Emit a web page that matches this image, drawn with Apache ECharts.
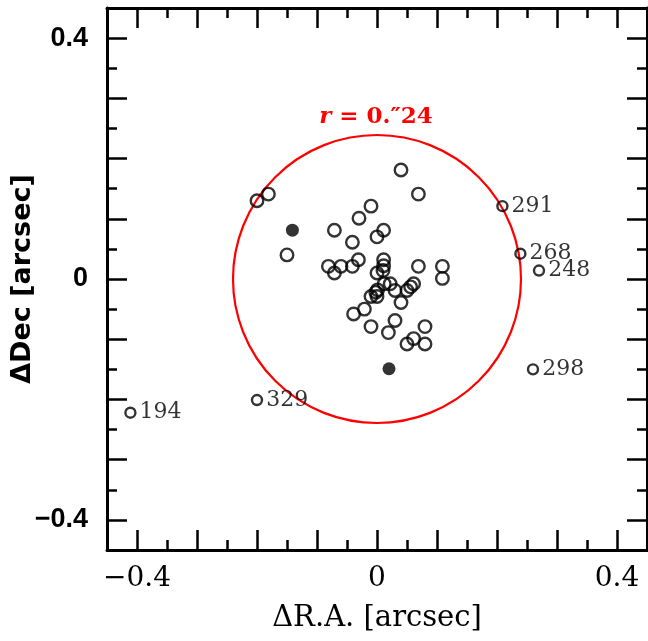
<!DOCTYPE html>
<html>
<head>
<meta charset="utf-8">
<script src="https://cdn.jsdelivr.net/npm/echarts@6/dist/echarts.min.js"></script>
<style>
  html, body { margin: 0; padding: 0; background: #fff; }
  #chart { width: 648px; height: 641px; }
</style>
</head>
<body>
<div id="chart"></div>
<script>
// unlabelled sources (open circles)
const openRA = [-0.200, -0.181, -0.150, -0.071, -0.081, -0.071, 0.040, 0.069, -0.010, -0.030,
  0.011, 0.000, -0.041, -0.031, -0.041, -0.060, 0.011, 0.011, 0.010, 0.000,
  0.069, 0.109, 0.109, 0.001, 0.012, 0.022, 0.030, 0.050, 0.061, 0.056,
  -0.010, -0.002, 0.000, 0.040, -0.021, -0.039, 0.030, -0.010, 0.019, 0.080,
  0.061, 0.050, 0.080];
const openDec = [0.130, 0.141, 0.040, 0.081, 0.021, 0.010, 0.181, 0.141, 0.121, 0.101,
  0.081, 0.070, 0.061, 0.032, 0.021, 0.021, 0.032, 0.022, 0.014, 0.010,
  0.021, 0.021, 0.001, -0.018, -0.008, -0.008, -0.019, -0.019, -0.008, -0.013,
  -0.029, -0.022, -0.029, -0.039, -0.050, -0.058, -0.069, -0.079, -0.089, -0.079,
  -0.099, -0.108, -0.108];

// filled circles
const filledRA = [-0.141, 0.020];
const filledDec = [0.081, -0.149];

// labelled sources
const labelIds = ["194", "329", "298", "291", "268", "248"];
const labelRA = [-0.411, -0.200, 0.260, 0.209, 0.239, 0.270];
const labelDec = [-0.222, -0.201, -0.150, 0.121, 0.042, 0.014];

const circleR = 0.24;
const majorTicks = [-0.4, -0.3, -0.2, -0.1, 0, 0.1, 0.2, 0.3, 0.4];
const minorTicks = [-0.35, -0.25, -0.15, -0.05, 0.05, 0.15, 0.25, 0.35];
const tickLabels = [-0.4, 0, 0.4];

const fmt = (v) => (v === 0 ? "0" : (v < 0 ? "\u2212" : "") + Math.abs(v).toFixed(1));

function makeAxis(position, ticks, len, opts) {
  return Object.assign({
    type: "value",
    position: position,
    min: -0.45,
    max: 0.45,
    splitLine: { show: false },
    axisLine: { show: false, onZero: false },
    axisTick: {
      show: true,
      inside: true,
      length: len,
      customValues: ticks,
      lineStyle: { color: "#000", width: 2.5 },
    },
    axisLabel: { show: false },
  }, opts || {});
}

const frameLine = { show: true, onZero: false, lineStyle: { color: "#000", width: 3 } };

const xAxes = [
  makeAxis("bottom", majorTicks, 20, {
    axisLine: frameLine,
    axisLabel: {
      show: true,
      customValues: tickLabels,
      formatter: fmt,
      margin: 15,
      color: "#000",
      fontFamily: "DejaVu Serif",
      fontSize: 28,
    },
    name: "\u0394R.A. [arcsec]",
    nameLocation: "middle",
    nameGap: 54,
    nameMoveOverlap: false,
    nameTextStyle: { color: "#000", fontFamily: "DejaVu Serif", fontSize: 29 },
  }),
  makeAxis("bottom", minorTicks, 10),
  makeAxis("top", majorTicks, 20, { axisLine: frameLine }),
  makeAxis("top", minorTicks, 10),
];

const yAxes = [
  makeAxis("left", majorTicks, 20, {
    axisLine: frameLine,
    axisLabel: {
      show: true,
      customValues: tickLabels,
      formatter: fmt,
      margin: 19,
      color: "#000",
      fontFamily: "Liberation Sans",
      fontWeight: "bold",
      fontSize: 27,
    },
    name: "\u0394Dec [arcsec]",
    nameLocation: "middle",
    nameGap: 71,
    nameMoveOverlap: false,
    nameTextStyle: { color: "#000", fontFamily: "DejaVu Sans", fontWeight: "bold", fontSize: 27 },
  }),
  makeAxis("left", minorTicks, 10),
  makeAxis("right", majorTicks, 20, { axisLine: frameLine }),
  makeAxis("right", minorTicks, 10),
];

const ringStyle = { color: "transparent", borderColor: "#000", borderWidth: 2.4 };

const option = {
  animation: false,
  backgroundColor: "#fff",
  grid: { left: 107, right: 1, top: 8, bottom: 91, containLabel: false, outerBoundsMode: "none" },
  xAxis: xAxes,
  yAxis: yAxes,
  series: [
    {
      type: "custom",
      coordinateSystem: "cartesian2d",
      silent: true,
      z: 1,
      data: [[0, 0, circleR]],
      renderItem: function (params, api) {
        const c = api.coord([api.value(0), api.value(1)]);
        const r = api.size([api.value(2), 0])[0];
        const top = api.coord([api.value(0), api.value(1) + api.value(2)]);
        return {
          type: "group",
          children: [
            {
              type: "circle",
              shape: { cx: c[0], cy: c[1], r: r },
              style: { fill: "none", stroke: "#ff0000", lineWidth: 2.2 },
            },
            {
              type: "text",
              x: top[0] - 1,
              y: top[1] - 17,
              style: {
                text: "{i|r} = 0.\u203324",
                align: "center",
                verticalAlign: "middle",
                fill: "#ff0000",
                fontFamily: "DejaVu Serif",
                fontWeight: "bold",
                fontSize: 23,
                rich: {
                  i: {
                    fontStyle: "italic",
                    fontFamily: "DejaVu Serif",
                    fontWeight: "bold",
                    fontSize: 23,
                    fill: "#ff0000",
                  },
                },
              },
            },
          ],
        };
      },
    },
    {
      type: "scatter",
      z: 2,
      symbol: "circle",
      symbolSize: 12.5,
      itemStyle: ringStyle,
      data: openRA.map((x, i) => [x, openDec[i]]),
    },
    {
      type: "scatter",
      z: 3,
      symbol: "circle",
      symbolSize: 10,
      itemStyle: ringStyle,
      label: {
        show: true,
        position: "right",
        distance: 3,
        formatter: (p) => p.name,
        color: "#000",
        fontFamily: "DejaVu Serif",
        fontSize: 22,
      },
      data: labelIds.map((id, i) => ({ name: id, value: [labelRA[i], labelDec[i]] })),
    },
    {
      type: "scatter",
      z: 4,
      symbol: "circle",
      symbolSize: 13,
      itemStyle: { color: "#000" },
      data: filledRA.map((x, i) => [x, filledDec[i]]),
    },
  ],
};

const chart = echarts.init(document.getElementById("chart"), null, { renderer: "canvas" });
chart.setOption(option);
</script>
</body>
</html>
